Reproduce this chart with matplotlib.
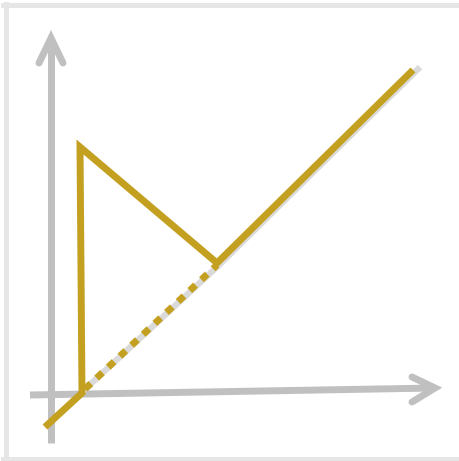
import matplotlib
matplotlib.use("Agg")
from matplotlib import pyplot as plt

# data (origin where the two axes cross, 1 unit ~ 1 px)
trend_x = [-6, 31, 29, 166, 362]
trend_y = [-34, 0, 246, 130, 323]
base_x = [32, 168, 369]
base_y = [2, 128, 326]
dot_x = [34, 166]
dot_y = [4, 128]

xaxis_x = [-21, 384]
xaxis_y = [-2, 5]
xhead_x = [361, 384, 361]
xhead_y = [16, 5, -9]
yaxis_x = [0, 0]
yaxis_y = [-50, 355]
yhead_x = [-12, 0, 12]
yhead_y = [330, 355, 330]

gold = "#c4a021"
axis_grey = "#c0c0c0"
shadow = "#dadada"

fig = plt.figure(figsize=(4.59, 4.61), dpi=100)
ax = fig.add_axes([0, 0, 1, 1])
ax.set_xlim(-51, 408)
ax.set_ylim(-68, 393)
ax.axis("off")

# light frame: top, left and bottom strips, open on the right
ax.axhline(387.5, xmin=0.0065, xmax=1, color="#e6e6e6", lw=3.6)
ax.axhline(-65.5, xmin=0.0065, xmax=1, color="#e6e6e6", lw=3.6)
ax.axvline(-45.5, ymin=0.0015, ymax=0.992, color="#e6e6e6", lw=3.6)

ax.plot(yaxis_x, yaxis_y, color=axis_grey, lw=5, solid_capstyle="butt")
ax.plot(yhead_x, yhead_y, color=axis_grey, lw=5, solid_capstyle="round", solid_joinstyle="miter")
ax.plot(xaxis_x, xaxis_y, color=axis_grey, lw=5, solid_capstyle="butt")
ax.plot(xhead_x, xhead_y, color=axis_grey, lw=5, solid_capstyle="round", solid_joinstyle="miter")

ax.plot(base_x, base_y, color=shadow, lw=4.5, solid_capstyle="butt")
ax.plot(dot_x, dot_y, color=gold, lw=5, linestyle=(0, (1.15, 1.15)), dash_capstyle="butt")
ax.plot(trend_x, trend_y, color=gold, lw=5, solid_capstyle="butt", solid_joinstyle="miter")

plt.savefig("out.png", dpi=100)
plt.close()
